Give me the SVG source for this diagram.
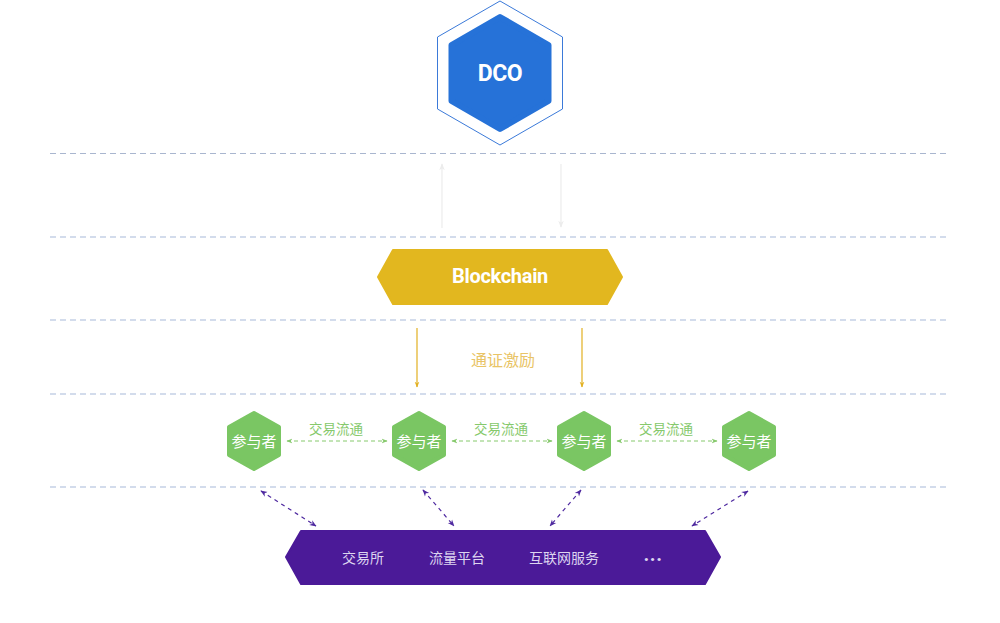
<svg xmlns="http://www.w3.org/2000/svg" width="1000" height="623" viewBox="0 0 1000 623">
<defs>
<style>
.sep{stroke:#d3dcec;stroke-width:2;stroke-dasharray:6 4;fill:none}
.sep1{stroke:#a9b6cf;stroke-width:1;stroke-dasharray:6 4;fill:none}
.hexg{fill:#7ac663;stroke:#7ac663;stroke-width:4;stroke-linejoin:round}
.ptxt{font-family:"Noto Sans CJK SC",sans-serif;font-size:15px;fill:#ffffff;text-anchor:middle}
.gl{font-family:"Noto Sans CJK SC",sans-serif;font-size:13.5px;fill:#86c96c;text-anchor:middle}
.garr{stroke:#86c96c;stroke-width:1;stroke-dasharray:4 3;fill:none}
.parr{stroke:#4f2aa0;stroke-width:1.2;stroke-dasharray:4 4;fill:none}
.btxt{font-family:"Noto Sans CJK SC",sans-serif;font-size:14px;fill:#ddd5f0;text-anchor:middle}
</style>
<marker id="mg" viewBox="0 0 10 10" refX="9" refY="5" markerWidth="6" markerHeight="6" orient="auto-start-reverse" markerUnits="userSpaceOnUse"><path d="M0,1 L10,5 L0,9 L3,5 z" fill="#86c96c"/></marker>
<marker id="mp" viewBox="0 0 10 10" refX="9" refY="5" markerWidth="7" markerHeight="7" orient="auto-start-reverse" markerUnits="userSpaceOnUse"><path d="M0,1 L10,5 L0,9 L3,5 z" fill="#4f2aa0"/></marker>
<marker id="mo" viewBox="0 0 10 10" refX="9" refY="5" markerWidth="6" markerHeight="6" orient="auto-start-reverse" markerUnits="userSpaceOnUse"><path d="M0,1 L10,5 L0,9 L3,5 z" fill="#e2b020"/></marker>
<marker id="mf" viewBox="0 0 10 10" refX="9" refY="5" markerWidth="7" markerHeight="7" orient="auto-start-reverse" markerUnits="userSpaceOnUse"><path d="M0,1 L10,5 L0,9 L3,5 z" fill="#ececec"/></marker>
</defs>
<rect width="1000" height="623" fill="#ffffff"/>

<g id="separators">
<line class="sep1" x1="50" y1="153.5" x2="948" y2="153.5"/>
<line class="sep" x1="50" y1="237" x2="948" y2="237"/>
<line class="sep" x1="50" y1="320" x2="948" y2="320"/>
<line class="sep" x1="50" y1="394" x2="948" y2="394"/>
<line class="sep" x1="50" y1="487" x2="948" y2="487"/>
</g>

<g id="dco">
<polygon points="500,1 562.5,37 562.5,109 500,145 437.5,109 437.5,37" fill="none" stroke="#3b7ad9" stroke-width="1" stroke-linejoin="round"/>
<polygon points="500,17 548.5,45 548.5,101 500,129 451.5,101 451.5,45" fill="#2672d8" stroke="#2672d8" stroke-width="6" stroke-linejoin="round"/>
<text x="500" y="81" font-family="Roboto, sans-serif" font-weight="bold" font-size="23" fill="#ffffff" text-anchor="middle" letter-spacing="-0.5">DCO</text>
</g>

<g id="blockchain">
<polygon points="393,250 607,250 622,277 607,304 393,304 378,277" fill="#e2b71f" stroke="#e2b71f" stroke-width="2" stroke-linejoin="round"/>
<text x="500" y="283" font-family="Roboto, sans-serif" font-weight="bold" font-size="20" fill="#ffffff" text-anchor="middle" letter-spacing="-0.3">Blockchain</text>
</g>

<g id="p1"><polygon class="hexg" points="254,413 279,427 279,455 254,469 229,455 229,427"/><text class="ptxt" x="254" y="447">参与者</text></g>
<g id="p2"><polygon class="hexg" points="419,413 444,427 444,455 419,469 394,455 394,427"/><text class="ptxt" x="419" y="447">参与者</text></g>
<g id="p3"><polygon class="hexg" points="584,413 609,427 609,455 584,469 559,455 559,427"/><text class="ptxt" x="584" y="447">参与者</text></g>
<g id="p4"><polygon class="hexg" points="749,413 774,427 774,455 749,469 724,455 724,427"/><text class="ptxt" x="749" y="447">参与者</text></g>

<g id="platforms">
<polygon points="301,531 705,531 720,557 705,584 301,584 286,557" fill="#4b1a98" stroke="#4b1a98" stroke-width="2" stroke-linejoin="round"/>
<text class="btxt" x="363" y="563">交易所</text>
<text class="btxt" x="457" y="563">流量平台</text>
<text class="btxt" x="564" y="563">互联网服务</text>
<text x="653" y="561" font-family="Roboto, sans-serif" font-weight="bold" font-size="20" fill="#ddd5f0" text-anchor="middle" letter-spacing="0.5">...</text>
</g>

<g id="connectors">
<line x1="442" y1="228" x2="442" y2="164" stroke="#ececec" stroke-width="1.2" marker-end="url(#mf)"/>
<line x1="561" y1="164" x2="561" y2="227" stroke="#ececec" stroke-width="1.2" marker-end="url(#mf)"/>
<line x1="417" y1="328" x2="417" y2="387" stroke="#e2b020" stroke-width="1.2" marker-end="url(#mo)"/>
<line x1="582" y1="328" x2="582" y2="387" stroke="#e2b020" stroke-width="1.2" marker-end="url(#mo)"/>
<text x="503" y="366" font-family="Noto Sans CJK SC, sans-serif" font-size="16" fill="#e9c466" text-anchor="middle">通证激励</text>
<line class="garr" x1="287" y1="441" x2="387" y2="441" marker-start="url(#mg)" marker-end="url(#mg)"/>
<line class="garr" x1="452" y1="441" x2="552" y2="441" marker-start="url(#mg)" marker-end="url(#mg)"/>
<line class="garr" x1="617" y1="441" x2="717" y2="441" marker-start="url(#mg)" marker-end="url(#mg)"/>
<text class="gl" x="336" y="434">交易流通</text>
<text class="gl" x="501" y="434">交易流通</text>
<text class="gl" x="666" y="434">交易流通</text>
<line class="parr" x1="261" y1="491" x2="316" y2="526" marker-start="url(#mp)" marker-end="url(#mp)"/>
<line class="parr" x1="423" y1="490" x2="454" y2="526" marker-start="url(#mp)" marker-end="url(#mp)"/>
<line class="parr" x1="581" y1="490" x2="550" y2="526" marker-start="url(#mp)" marker-end="url(#mp)"/>
<line class="parr" x1="748" y1="491" x2="692" y2="526" marker-start="url(#mp)" marker-end="url(#mp)"/>
</g>
</svg>
